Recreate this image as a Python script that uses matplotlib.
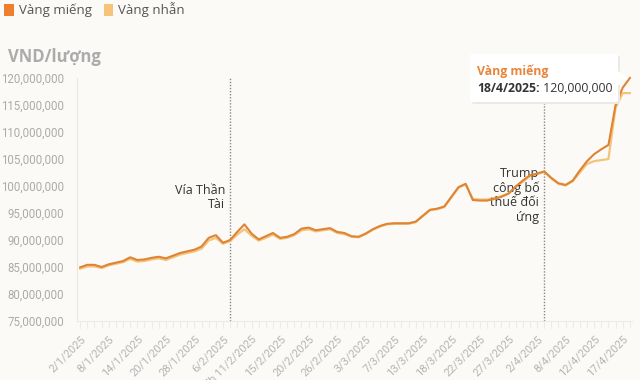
import matplotlib

matplotlib.use("Agg")
import matplotlib.pyplot as plt
from matplotlib.patches import FancyBboxPatch, Patch, Polygon
from matplotlib.text import Annotation

# gia vang (trieu dong / luong)
mieng = [
    84.95, 85.4, 85.4, 85.0, 85.5, 85.8, 86.1, 86.8, 86.3, 86.4,
    86.7, 86.9, 86.6, 87.1, 87.6, 87.9, 88.2, 88.8, 90.4, 90.9,
    89.5, 90.0, 91.5, 92.9, 91.2, 90.1, 90.7, 91.3, 90.4, 90.6,
    91.1, 92.1, 92.3, 91.8, 92.0, 92.2, 91.5, 91.3, 90.7, 90.6,
    91.2, 92.0, 92.6, 93.0, 93.1, 93.1, 93.1, 93.4, 94.5, 95.6,
    95.8, 96.2, 98.0, 99.8, 100.4, 97.4, 97.3, 97.3, 97.6, 98.0,
    98.6, 99.9, 101.0, 102.0, 102.3, 102.7, 101.5, 100.5, 100.2, 101.0,
    102.9, 104.6, 105.9, 106.8, 107.6, 115.0, 118.2, 120.0,
]
nhan = [
    84.7, 85.1, 85.1, 84.8, 85.3, 85.6, 85.9, 86.5, 86.0, 86.1,
    86.4, 86.6, 86.3, 86.8, 87.3, 87.6, 87.9, 88.4, 89.9, 90.4,
    89.3, 89.8, 91.0, 92.0, 90.8, 89.9, 90.4, 91.0, 90.2, 90.4,
    90.9, 91.8, 92.0, 91.6, 91.8, 92.0, 91.3, 91.1, 90.6, 90.5,
    91.1, 91.9, 92.5, 92.9, 93.0, 93.0, 93.0, 93.3, 94.4, 95.5,
    95.7, 96.1, 97.9, 99.7, 100.3, 97.6, 97.5, 97.5, 97.8, 98.1,
    98.6, 99.8, 100.8, 101.8, 102.2, 102.6, 101.4, 100.4, 100.1, 100.9,
    102.5, 104.1, 104.6, 104.8, 105.0, 114.5, 117.2, 117.2,
]
tick_labels = [
    "2/1/2025", "8/1/2025", "14/1/2025", "20/1/2025", "28/1/2025",
    "6/2/2025", "7h 11/2/2025", "15/2/2025", "20/2/2025", "26/2/2025",
    "3/3/2025", "7/3/2025", "13/3/2025", "18/3/2025", "22/3/2025",
    "27/3/2025", "2/4/2025", "8/4/2025", "12/4/2025", "17/4/2025",
]
events = [(21, "Vía Thần\nTài"), (65, "Trump\ncông bố\nthuế đối\nứng")]
y_ticks = [75, 80, 85, 90, 95, 100, 105, 110, 115, 120]

plt.rcParams["font.family"] = ["Open Sans", "DejaVu Sans"]

W, H = 640, 380
bg = "#fbfaf7"
c_mieng = "#df8433"
c_nhan = "#f3c47c"
grey = "#ababab"

fig = plt.figure(figsize=(6.4, 3.8), dpi=100, facecolor=bg)
ax = fig.add_axes([77 / W, 1 - 321 / H, (632 - 77) / W, (321 - 78) / H], facecolor=bg)

x = list(range(len(mieng)))
ax.plot(x, nhan, color=c_nhan, lw=1.6, clip_on=False, zorder=3)
ax.plot(x, mieng, color=c_mieng, lw=1.5, clip_on=False, zorder=4)

ax.set_xlim(-0.45, 77.3)
ax.set_ylim(75, 120)
ax.set_yticks(y_ticks)
ax.set_yticklabels([f"{v * 1_000_000:,}" for v in y_ticks], color=grey,
                   fontsize=8.3, family="Roboto")
ax.tick_params(axis="y", length=0, pad=9)

ax.set_xticks(x, minor=True)
ax.set_xticks(x[::4])
ax.set_xticklabels(tick_labels, rotation=45, ha="right", va="top",
                   rotation_mode="anchor", color="#b5b5b5", fontsize=8, family="Roboto")
ax.tick_params(axis="x", which="both", length=5, color="#ebebeb", width=0.8, pad=4)

for side in ["top", "right"]:
    ax.spines[side].set_visible(False)
ax.spines["left"].set_color("#e8e8e8")
ax.spines["bottom"].set_color("#ebebeb")

for pos, label in events:
    ax.axvline(pos, color="#888888", lw=1, ls=(0, (1, 1.2)), zorder=2)
ax.text(20.3, 100.3, events[0][1], ha="right", va="top", fontsize=9,
        color="#333333", linespacing=1.1)
ax.text(64.3, 103.6, events[1][1], ha="right", va="top", fontsize=9,
        color="#333333", linespacing=1.16)

# legend + unit
handles = [Patch(facecolor="#ef7f2c", edgecolor="none", label="Vàng miếng"),
           Patch(facecolor="#f5c37a", edgecolor="none", label="Vàng nhẫn")]
fig.legend(handles=handles, loc="upper left", bbox_to_anchor=(-0.012, 1.025), ncol=2,
           frameon=False, fontsize=9.5, handlelength=0.75, handleheight=1.1,
           handletextpad=0.35, columnspacing=0.9, labelcolor="#555555")
fig.text(8 / W, 1 - 57 / H, "VND/lượng", fontsize=12, fontweight="bold",
         color=grey, va="center")

# tooltip
shadow = FancyBboxPatch((472 / W, 1 - 104 / H), 148 / W, 48 / H,
                        boxstyle="round,pad=0,rounding_size=0.004",
                        transform=fig.transFigure, facecolor="#ebe9e4",
                        edgecolor="none", zorder=9)
box = FancyBboxPatch((470 / W, 1 - 102 / H), 148 / W, 48 / H,
                     boxstyle="round,pad=0,rounding_size=0.004",
                     transform=fig.transFigure, facecolor="white",
                     edgecolor="none", zorder=10)
tip = Polygon([(617 / W, 1 - 70 / H), (628 / W, 1 - 79 / H), (617 / W, 1 - 86 / H)],
              closed=True, transform=fig.transFigure, facecolor="white",
              edgecolor="none", zorder=10)
fig.add_artist(shadow)
fig.add_artist(box)
fig.add_artist(tip)
fig.text(477 / W, 1 - 71 / H, "Vàng miếng", fontsize=8.8, fontweight="bold",
         color="#e8853a", va="center", zorder=11)
t_date = fig.text(477 / W, 1 - 88 / H, "18/4/2025:", fontsize=8.8, fontweight="bold",
                  color="#333333", va="center", zorder=11)
value = Annotation(" 120,000,000", xy=(1, 0.5), xycoords=t_date, va="center",
                   ha="left", fontsize=8.8, color="#333333", zorder=11)
fig.add_artist(value)

fig.savefig("out.png", dpi=100, facecolor=bg)
